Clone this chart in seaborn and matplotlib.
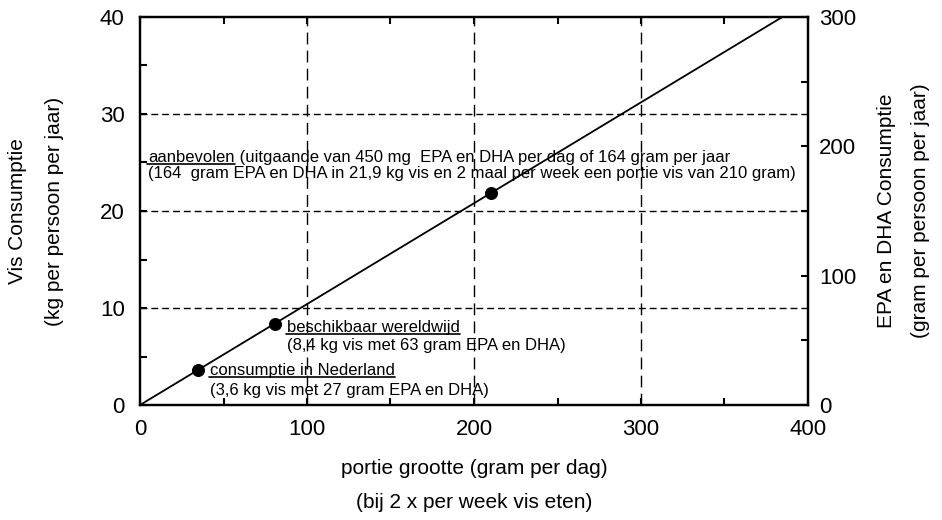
import matplotlib
matplotlib.use("Agg")
import matplotlib.pyplot as plt
from matplotlib.ticker import MultipleLocator
from matplotlib.transforms import ScaledTranslation
import seaborn as sns
import pandas as pd

# ---- data ----
line_x = [0, 400]          # portie grootte (gram per dag)
line_y = [0, 41.6]         # vis consumptie (kg per persoon per jaar)
point_x = [34.6, 80.8, 210]
point_y = [3.6, 8.4, 21.9]
grid_x = [100, 200, 300]
grid_y = [10, 20, 30]

ann_heads = ["aanbevolen", "beschikbaar wereldwijd", "consumptie in Nederland"]
ann_tails = [" (uitgaande van 450 mg  EPA en DHA per dag of 164 gram per jaar", "", ""]
ann_second = ["(164  gram EPA en DHA in 21,9 kg vis en 2 maal per week een portie vis van 210 gram)",
              "(8,4 kg vis met 63 gram EPA en DHA)",
              "(3,6 kg vis met 27 gram EPA en DHA)"]
ann_x = [4.8, 88, 41.9]
ann_y1 = [25.08, 7.56, 3.09]
ann_y2 = [23.43, 5.67, 1.03]

sns.set_style("ticks")
plt.rcParams['font.family'] = ['Liberation Sans', 'DejaVu Sans']
plt.rcParams['text.color'] = 'black'
plt.rcParams['xtick.color'] = 'black'
plt.rcParams['ytick.color'] = 'black'
plt.rcParams['axes.edgecolor'] = 'black'

fig = plt.figure(figsize=(9.42, 5.2), dpi=100)
ax = fig.add_axes([140/942, 1-405/520, (808-140)/942, (405-17)/520])

for gx in grid_x:
    ax.axvline(gx, color='black', lw=1.0, dashes=(8.5, 4.5), zorder=1)
for gy in grid_y:
    ax.axhline(gy, color='black', lw=1.0, dashes=(5, 2.8), zorder=1)

df_line = pd.DataFrame({'x': line_x, 'y': line_y})
df_pts = pd.DataFrame({'x': point_x, 'y': point_y})
sns.lineplot(data=df_line, x='x', y='y', ax=ax, color='black', lw=1.3, zorder=3)
sns.scatterplot(data=df_pts, x='x', y='y', ax=ax, color='black', s=75, edgecolor='black', zorder=4)

ax.set_xlim(0, 400)
ax.set_ylim(0, 40)
ax.set_xlabel('')
ax.set_ylabel('')
ax.xaxis.set_major_locator(MultipleLocator(100))
ax.xaxis.set_minor_locator(MultipleLocator(50))
ax.yaxis.set_major_locator(MultipleLocator(10))
ax.yaxis.set_minor_locator(MultipleLocator(5))
ax.tick_params(which='both', direction='in', length=5, width=1.5, top=True, right=False)
ax.tick_params(axis='x', which='major', labelsize=16, pad=10)
ax.tick_params(axis='y', which='major', labelsize=16, pad=11)
for s in ax.spines.values():
    s.set_visible(True)
    s.set_linewidth(1.6)
    s.set_color('black')

ax2 = ax.twinx()
ax2.set_ylim(0, 300)
ax2.yaxis.set_major_locator(MultipleLocator(100))
ax2.yaxis.set_minor_locator(MultipleLocator(50))
ax2.tick_params(which='both', direction='in', length=5, width=1.5)
ax2.tick_params(axis='y', which='major', labelsize=16, pad=8)
for s in ax2.spines.values():
    s.set_linewidth(1.6)
    s.set_color('black')

fs = 12
texts = []
for head, tail, second, x, y1, y2 in zip(ann_heads, ann_tails, ann_second, ann_x, ann_y1, ann_y2):
    t = ax.text(x, y1, head, ha='left', va='baseline', fontsize=fs, zorder=5)
    ax.text(x, y2, second, ha='left', va='baseline', fontsize=fs, zorder=5)
    texts.append((t, tail, x, y1))

fig.canvas.draw()
r = fig.canvas.get_renderer()
for t, tail, x, y1 in texts:
    bb = t.get_window_extent(r)
    bx, by = ax.transData.transform((x, y1))
    if tail:
        off = ScaledTranslation((bb.x1 - bx) / fig.dpi, 0, fig.dpi_scale_trans)
        ax.text(x, y1, tail, ha='left', va='baseline', fontsize=fs, zorder=5,
                transform=ax.transData + off)
    inv = ax.transData.inverted()
    (ux0, uy), (ux1, _) = inv.transform([(bb.x0 - 1, by - 2), (bb.x1, by - 2)])
    ax.plot([ux0, ux1], [uy, uy], color='black', lw=1.2, clip_on=False, zorder=5)

lf = 15
fig.text(474/942, 1-468/520, 'portie grootte (gram per dag)', ha='center', va='center', fontsize=lf)
fig.text(474/942, 1-502/520, '(bij 2 x per week vis eten)', ha='center', va='center', fontsize=lf)
fig.text(18/942, 1-211/520, 'Vis Consumptie', ha='center', va='center', rotation=90, fontsize=lf)
fig.text(55/942, 1-211/520, '(kg per persoon per jaar)', ha='center', va='center', rotation=90, fontsize=lf)
fig.text(887/942, 1-211/520, 'EPA en DHA Consumptie', ha='center', va='center', rotation=90, fontsize=lf)
fig.text(920/942, 1-211/520, '(gram per persoon per jaar)', ha='center', va='center', rotation=90, fontsize=lf)

fig.savefig('out.png', dpi=100)
